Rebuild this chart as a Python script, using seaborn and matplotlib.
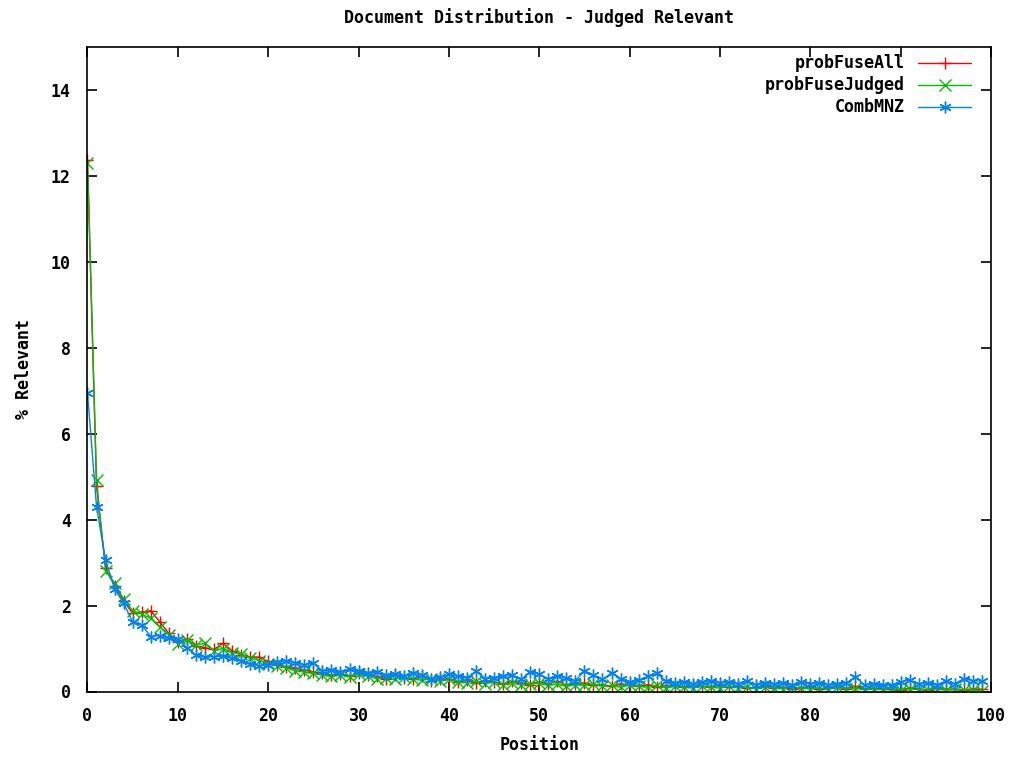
import numpy as np
import pandas as pd
import matplotlib
matplotlib.use("Agg")
import matplotlib.pyplot as plt
from matplotlib.lines import Line2D
import seaborn as sns

# Rank positions in the fused result list
positions = list(range(100))

prob_fuse_all = [
    12.38, 4.78, 2.88, 2.45, 2.10, 1.82, 1.85, 1.88, 1.62, 1.35,
    1.15, 1.22, 1.05, 1.02, 0.98, 1.12, 0.95, 0.85, 0.80, 0.80,
    0.70, 0.62, 0.58, 0.55, 0.50, 0.45, 0.42, 0.38, 0.40, 0.36,
    0.42, 0.38, 0.35, 0.30, 0.38, 0.32, 0.28, 0.36, 0.25, 0.28,
    0.30, 0.22, 0.26, 0.20, 0.25, 0.22, 0.18, 0.24, 0.20, 0.16,
    0.22, 0.18, 0.24, 0.15, 0.18, 0.20, 0.14, 0.16, 0.12, 0.18,
    0.14, 0.12, 0.16, 0.10, 0.14, 0.12, 0.10, 0.14, 0.12, 0.10,
    0.16, 0.10, 0.12, 0.08, 0.10, 0.12, 0.08, 0.10, 0.06, 0.08,
    0.10, 0.06, 0.08, 0.10, 0.06, 0.12, 0.05, 0.08, 0.06, 0.05,
    0.04, 0.08, 0.06, 0.04, 0.08, 0.05, 0.06, 0.04, 0.06, 0.05,
]

prob_fuse_judged = [
    12.30, 4.92, 2.80, 2.52, 2.15, 1.88, 1.80, 1.70, 1.50, 1.32,
    1.10, 1.20, 1.08, 1.12, 0.95, 1.00, 0.90, 0.88, 0.78, 0.72,
    0.65, 0.60, 0.55, 0.48, 0.45, 0.42, 0.38, 0.35, 0.38, 0.34,
    0.40, 0.36, 0.30, 0.32, 0.28, 0.34, 0.30, 0.26, 0.30, 0.24,
    0.28, 0.22, 0.20, 0.24, 0.18, 0.22, 0.16, 0.20, 0.15, 0.18,
    0.20, 0.14, 0.18, 0.12, 0.16, 0.14, 0.18, 0.12, 0.14, 0.10,
    0.15, 0.12, 0.10, 0.14, 0.08, 0.12, 0.10, 0.08, 0.12, 0.10,
    0.08, 0.12, 0.08, 0.10, 0.06, 0.10, 0.08, 0.06, 0.10, 0.08,
    0.06, 0.08, 0.05, 0.10, 0.06, 0.08, 0.04, 0.06, 0.05, 0.07,
    0.04, 0.06, 0.05, 0.04, 0.06, 0.03, 0.05, 0.04, 0.03, 0.02,
]

comb_mnz = [
    6.95, 4.30, 3.06, 2.39, 2.05, 1.62, 1.55, 1.28, 1.30, 1.25,
    1.22, 1.02, 0.85, 0.80, 0.81, 0.83, 0.78, 0.72, 0.65, 0.60,
    0.62, 0.68, 0.72, 0.66, 0.62, 0.66, 0.48, 0.50, 0.45, 0.52,
    0.48, 0.42, 0.45, 0.38, 0.40, 0.35, 0.42, 0.38, 0.30, 0.33,
    0.40, 0.36, 0.32, 0.47, 0.30, 0.32, 0.35, 0.38, 0.28, 0.46,
    0.40, 0.30, 0.36, 0.32, 0.25, 0.48, 0.38, 0.28, 0.43, 0.30,
    0.22, 0.26, 0.35, 0.42, 0.25, 0.20, 0.22, 0.18, 0.22, 0.25,
    0.20, 0.22, 0.18, 0.24, 0.16, 0.20, 0.18, 0.20, 0.15, 0.22,
    0.18, 0.20, 0.15, 0.18, 0.20, 0.34, 0.15, 0.18, 0.14, 0.16,
    0.22, 0.27, 0.18, 0.20, 0.16, 0.24, 0.18, 0.30, 0.25, 0.24,
]

series_names = ["probFuseAll", "probFuseJudged", "CombMNZ"]
series_values = [prob_fuse_all, prob_fuse_judged, comb_mnz]
series_colors = ["#ff0000", "#00c000", "#0080ff"]
series_markers = ["+", "x", (6, 2, 0)]

x_ticks = list(range(0, 101, 10))
y_ticks = list(range(0, 15, 2))

sns.set_style("ticks")
plt.rcParams["font.family"] = ["DejaVu Sans Mono", "DejaVu Sans"]
plt.rcParams["font.weight"] = "bold"
plt.rcParams["text.color"] = "black"
plt.rcParams["axes.labelcolor"] = "black"
plt.rcParams["xtick.color"] = "black"
plt.rcParams["ytick.color"] = "black"

fig = plt.figure(figsize=(10.2, 7.57), dpi=100)
ax = fig.add_axes([87.5 / 1020, 1 - 691.5 / 757, (991 - 87.5) / 1020, (691.5 - 47) / 757])

for name, vals, col, mk in zip(series_names, series_values, series_colors, series_markers):
    df = pd.DataFrame({"Position": positions, "value": vals})
    sns.lineplot(data=df, x="Position", y="value", ax=ax, color=col, linewidth=1.0,
                 marker=mk, markersize=8.5, markeredgecolor=col, markerfacecolor=col,
                 markeredgewidth=1.0, legend=False)

ax.set_xlim(0, 100)
ax.set_ylim(0, 15)
ax.set_xticks(x_ticks)
ax.set_yticks(y_ticks)
ax.tick_params(direction="in", length=7, width=1.2, top=True, right=True,
               labelsize=12, colors="black")
ax.tick_params(axis="x", pad=11)
ax.tick_params(axis="y", pad=12)
for lab in ax.get_xticklabels() + ax.get_yticklabels():
    lab.set_fontweight("bold")
for sp in ax.spines.values():
    sp.set_visible(True)
    sp.set_linewidth(1.2)
    sp.set_color("black")

ax.set_xlabel("Position", fontsize=12, fontweight="bold", labelpad=8)
ax.set_ylabel("% Relevant", fontsize=12, fontweight="bold", labelpad=13)
ax.set_title("Document Distribution - Judged Relevant", fontsize=12,
             fontweight="bold", pad=17)

# Key in the upper right: right-aligned labels followed by line samples
row_y = [63, 85, 107]
for name, col, mk, py in zip(series_names, series_colors, series_markers, row_y):
    fy = 1 - py / 757
    fig.text(905 / 1020, fy, name, ha="right", va="center", fontsize=12,
             fontweight="bold")
    fig.add_artist(Line2D([918 / 1020, 971 / 1020], [fy, fy], color=col, linewidth=1.0,
                          transform=fig.transFigure))
    fig.add_artist(Line2D([945 / 1020], [fy], color=col, marker=mk, markersize=8.5,
                          markeredgewidth=1.0, linestyle="none",
                          transform=fig.transFigure))

fig.savefig("out.png", dpi=100)
